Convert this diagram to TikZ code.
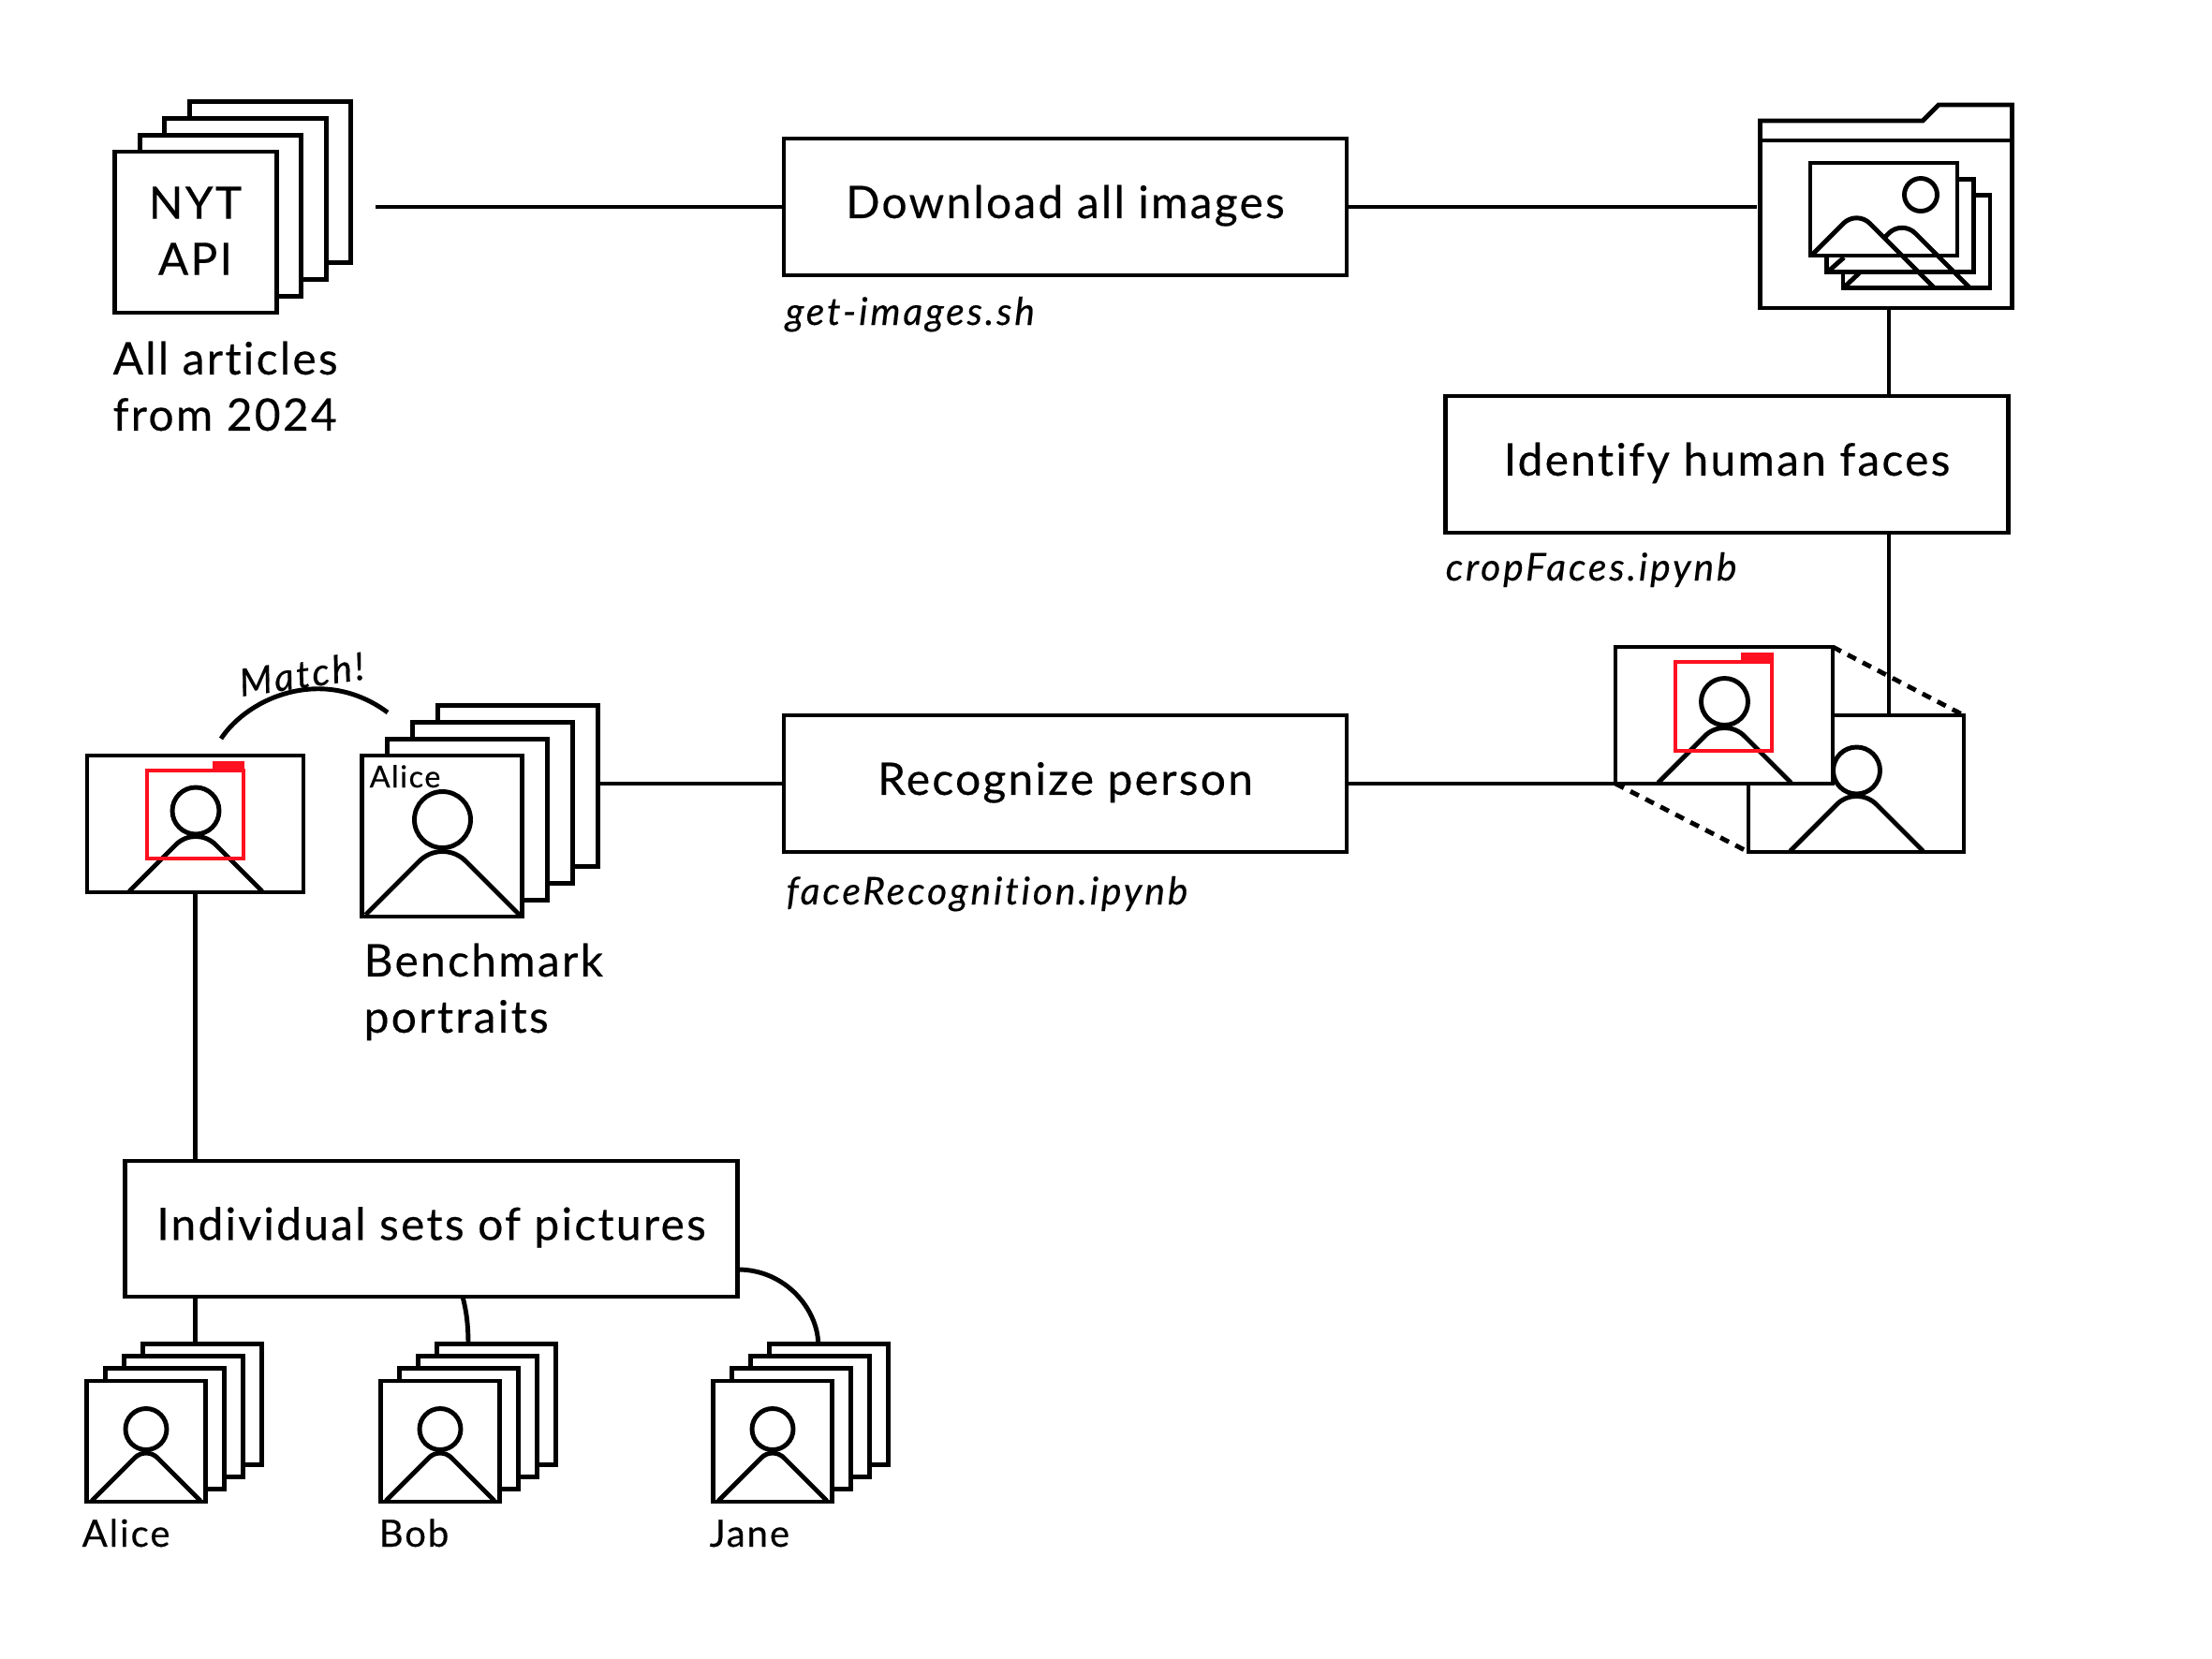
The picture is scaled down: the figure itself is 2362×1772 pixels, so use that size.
\documentclass[tikz,border=0pt]{standalone}
\usepackage{fontspec}
\setmainfont{Lato}[LetterSpace=4.8, Ligatures=NoCommon, FakeBold=0.35]
\usetikzlibrary{positioning}

\definecolor{facered}{HTML}{FF1020}

\tikzset{
  frame/.style={draw=black, fill=white, line width=1.4pt, inner sep=0pt, outer sep=0pt},
  stepbox/.style={frame, minimum width=601*0.01cm, minimum height=146*0.01cm, text height=9.6pt, text depth=2.8pt, font=\fontsize{13.6}{17}\selectfont},
  caption/.style={inner sep=0pt, anchor=base west, font=\fontsize{13.6}{17.07}\selectfont},
  script/.style={inner sep=0pt, anchor=base west, font=\fontsize{11.6}{14}\selectfont\itshape\addfontfeatures{LetterSpace=7}},
  small/.style={inner sep=0pt, anchor=base west, font=\fontsize{11.4}{14}\selectfont},
  wire/.style={line width=1.4pt},
  facebox/.style={draw=facered, line width=1.3pt},
}

% person: centre x, base y, half width, head y, head radius, rounding
\newcommand{\person}[6]{
  \draw[wire, rounded corners=#6] (#1-#3, #2) -- (#1, #2-#3) -- (#1+#3, #2);
  \draw[wire] (#1, #4) circle [radius=#5];
}

\begin{document}
\begin{tikzpicture}[x=0.01cm, y=-0.01cm]

\useasboundingbox (0,0) rectangle (2362,1772);

\def\ya{221}; % top row
\def\yb{837}; % middle row
\def\xl{1137.5}; % step column

% NYT stack
\foreach \i in {3,2,1,0}
  \node[frame, minimum width=172.5*0.01cm, minimum height=172*0.01cm] (nyt\i) at (209+26.5*\i, 248-17.8*\i) {};
\node[inner sep=0pt, align=center, font=\fontsize{13.6}{17.07}\selectfont] (nytlabel) at (208.5, 246.5) {NYT\\API};
\node[caption, align=left, anchor=north west] (articles) at (120, 364) {All articles\\from 2024};

\coordinate (nytout) at (401, \ya);
\node[stepbox] (download) at (\xl, \ya) {Download all images};
\node[script] (getimages) at (838, 347) {get-images.sh};

% folder
\node[frame, minimum width=269*0.01cm, minimum height=179*0.01cm] (folder) at (2014, 239.5) {};
\draw[wire] (folder.north west) -- (1879.5, 129) -- (2053, 129) -- (2070, 112) -- (2148.5, 112) -- (folder.north east);
\coordinate (folderin) at (1876, \ya);
\coordinate (folderout) at (2017, 329);

\foreach \i in {2,1,0} {
  \node[frame, minimum width=157*0.01cm, minimum height=99*0.01cm] (pic\i) at (2011.5+17.5*\i, 223.5+17.2*\i) {};
}
\draw[wire, rounded corners=0.2cm] (1935, 272) -- (1982.5, 224.5) -- (2065, 307);
\draw[wire, rounded corners=0.2cm] (2013, 253) -- (2031, 235) -- (2103, 307);
\draw[wire] (1952, 290) -- (1969, 275);
\draw[wire] (1969, 307) -- (1986, 291);
\draw[wire] (2051, 208) circle [radius=17.5];

\node[stepbox] (identify) at (1844, 496) {Identify human faces};
\node[script] (cropfaces) at (1543, 620) {cropFaces.ipynb};

% zoomed face
\node[frame, minimum width=230*0.01cm, minimum height=146*0.01cm] (crop) at (1982, \yb) {};
\person{1982.5}{909}{71}{823}{25}{0.3cm}
\node[frame, minimum width=232*0.01cm, minimum height=146*0.01cm] (photo) at (1841, 764) {};
\person{1841.5}{836}{71}{749.5}{25}{0.3cm}
\draw[facebox] (1789, 707) rectangle (1892, 802);
\fill[facered] (1859, 697) rectangle (1894, 708);
\draw[wire, dash pattern=on 0.1cm off 0.08cm] (photo.north east) -- (crop.north east);
\draw[wire, dash pattern=on 0.1cm off 0.08cm] (photo.south west) -- (crop.south west);

\node[stepbox] (recognize) at (\xl, \yb) {Recognize person};
\node[script] (facerec) at (839, 966) {faceRecognition.ipynb};

% benchmark stack
\foreach \i in {3,2,1,0}
  \node[frame, minimum width=171.5*0.01cm, minimum height=172*0.01cm] (bench\i) at (472+27*\i, 893-17.7*\i) {};
\person{472.5}{977}{82}{875.5}{30}{0.35cm}
\node[small, font=\fontsize{9.2}{11}\selectfont] (benchname) at (394, 841) {Alice};
\node[caption, align=left, anchor=north west] (benchcap) at (388, 1007) {Benchmark\\portraits};

% matched photo
\node[frame, minimum width=231*0.01cm, minimum height=146*0.01cm] (match) at (208.5, 880) {};
\person{209}{952}{71}{866}{25}{0.3cm}
\draw[facebox] (157, 823) rectangle (260, 917);
\fill[facered] (227, 813) rectangle (261, 824);

\coordinate (arcstart) at (236, 789);
\coordinate (arcend) at (414, 761);
\draw[wire] (arcstart) .. controls (265, 745) and (345, 710) .. (arcend);
\node[inner sep=0pt, rotate=8, font=\fontsize{11.6}{14}\selectfont\itshape\addfontfeatures{LetterSpace=7}] (matchtext) at (322, 720) {Match!};

% individual sets
\node[stepbox, minimum width=654*0.01cm, minimum height=145*0.01cm] (sets) at (460.5, 1312.5) {Individual sets of pictures};
\coordinate (setsin) at (208.5, 1110);

\foreach \name/\xc [count=\n] in {alice/156, bob/470, jane/825} {
  \foreach \i in {3,2,1,0}
    \node[frame, minimum width=127.5*0.01cm, minimum height=129*0.01cm] (\name\i) at (\xc+20*\i, 1539.5-13.2*\i) {};
  \person{\xc}{1603}{58}{1526.5}{22}{0.17cm}
}

\node[small] (alicelabel) at (87, 1652) {Alice};
\node[small] (boblabel) at (404, 1652) {Bob};
\node[small] (janelabel) at (757, 1652) {Jane};

% connectors
\draw[wire] (nytout) -- (download.west);
\draw[wire] (download.east) -- (folderin);
\draw[wire] (folderout) -- (identify.north -| folderout);
\draw[wire] (identify.south -| folderout) -- (crop.north -| folderout);
\draw[wire] (recognize.east) -- (photo.south west);
\draw[wire] (bench3.east |- recognize.west) -- (recognize.west);
\draw[wire] (match.south) -- (sets.north -| match.south);
\draw[wire, line width=1.7pt] (setsin) -- (sets.north -| setsin);
\draw[wire] (sets.south -| match.south) -- (alice3.north -| match.south);
\coordinate (bobfrom) at (494, 1385);
\coordinate (bobto) at (500, 1436);
\coordinate (janefrom) at (787.7, 1356);
\coordinate (janeto) at (873.7, 1436);
\draw[wire] (bobfrom) .. controls (498, 1400) and (500, 1415) .. (bobto);
\draw[wire] (janefrom) .. controls (840, 1356) and (873.7, 1400) .. (janeto);

\end{tikzpicture}
\end{document}
